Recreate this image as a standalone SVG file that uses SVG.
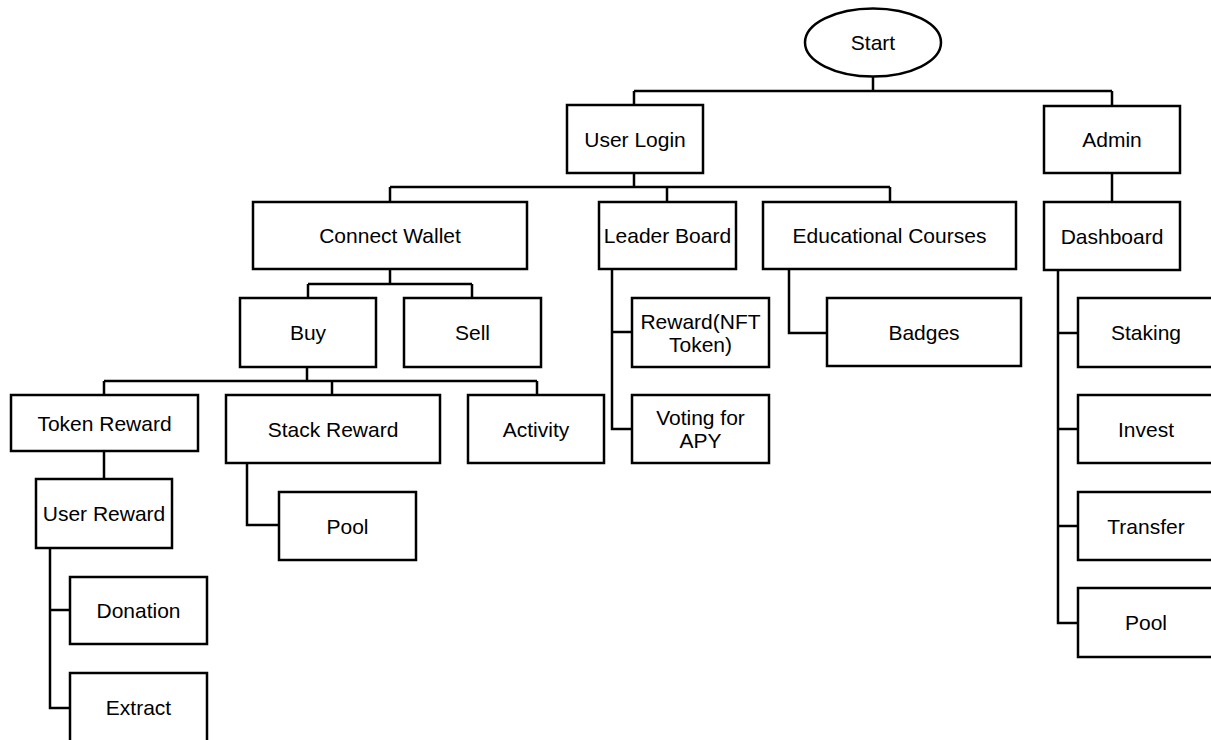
<svg xmlns="http://www.w3.org/2000/svg" width="1211" height="740" viewBox="0 0 1211 740">
<style>
.n{fill:#fff;stroke:#000;stroke-width:2.5}
.c{fill:none;stroke:#000;stroke-width:2.5}
text{font-family:"Liberation Sans",Arial,sans-serif;font-size:21px;fill:#000;text-anchor:middle}
</style>
<rect width="1211" height="740" fill="#fff"/>
<g id="connectors" class="c">
<path d="M873,76 V91 M634,91 H1112 M634,91 V105 M1112,91 V106"/>
<path d="M634,173 V187 M390,187 H890 M390,187 V202 M667,187 V202 M890,187 V202"/>
<path d="M390,269 V284 M308,284 H472 M308,284 V298 M472,284 V298"/>
<path d="M307,367 V381 M104,381 H537 M104,381 V395 M332,381 V395 M537,381 V395"/>
<path d="M104,451 V479"/>
<path d="M50,548 V708 H70 M50,610 H70"/>
<path d="M247,463 V525 H279"/>
<path d="M612,269 V429 H632 M612,332 H632"/>
<path d="M789,269 V333 H827"/>
<path d="M1112,173 V202"/>
<path d="M1058,270 V623 H1078 M1058,333 H1078 M1058,429 H1078 M1058,526 H1078"/>
</g>
<g id="start"><ellipse class="n" cx="873" cy="42.5" rx="68" ry="34"/><text x="873" y="50">Start</text></g>
<g id="user-login"><rect class="n" x="567" y="105" width="136" height="68"/><text x="635" y="146.5">User Login</text></g>
<g id="admin"><rect class="n" x="1044" y="106" width="136" height="67"/><text x="1112" y="147">Admin</text></g>
<g id="connect-wallet"><rect class="n" x="253" y="202" width="274" height="67"/><text x="390" y="243">Connect Wallet</text></g>
<g id="leader-board"><rect class="n" x="599" y="202" width="137" height="67"/><text x="667.5" y="243">Leader Board</text></g>
<g id="educational-courses"><rect class="n" x="763" y="202" width="253" height="67"/><text x="889.5" y="243">Educational Courses</text></g>
<g id="dashboard"><rect class="n" x="1044" y="202" width="136" height="68"/><text x="1112" y="243.5">Dashboard</text></g>
<g id="buy"><rect class="n" x="240" y="298" width="136" height="69"/><text x="308" y="340">Buy</text></g>
<g id="sell"><rect class="n" x="404" y="298" width="137" height="69"/><text x="472.5" y="340">Sell</text></g>
<g id="reward-nft"><rect class="n" x="632" y="298" width="137" height="69"/><text x="700.5" y="328.5">Reward(NFT</text><text x="700.5" y="351.5">Token)</text></g>
<g id="badges"><rect class="n" x="827" y="298" width="194" height="68"/><text x="924" y="339.5">Badges</text></g>
<g id="staking"><rect class="n" x="1078" y="298" width="136" height="69"/><text x="1146" y="340">Staking</text></g>
<g id="token-reward"><rect class="n" x="11" y="395" width="187" height="56"/><text x="104.5" y="430.5">Token Reward</text></g>
<g id="stack-reward"><rect class="n" x="226" y="395" width="214" height="68"/><text x="333" y="436.5">Stack Reward</text></g>
<g id="activity"><rect class="n" x="468" y="395" width="136" height="68"/><text x="536" y="436.5">Activity</text></g>
<g id="voting-apy"><rect class="n" x="632" y="395" width="137" height="68"/><text x="700.5" y="425">Voting for</text><text x="700.5" y="448">APY</text></g>
<g id="invest"><rect class="n" x="1078" y="395" width="136" height="68"/><text x="1146" y="436.5">Invest</text></g>
<g id="user-reward"><rect class="n" x="36" y="479" width="136" height="69"/><text x="104" y="521">User Reward</text></g>
<g id="pool-left"><rect class="n" x="279" y="492" width="137" height="68"/><text x="347.5" y="533.5">Pool</text></g>
<g id="transfer"><rect class="n" x="1078" y="492" width="136" height="68"/><text x="1146" y="533.5">Transfer</text></g>
<g id="donation"><rect class="n" x="70" y="577" width="137" height="67"/><text x="138.5" y="618">Donation</text></g>
<g id="pool-right"><rect class="n" x="1078" y="588" width="136" height="69"/><text x="1146" y="630">Pool</text></g>
<g id="extract"><rect class="n" x="70" y="673" width="137" height="69"/><text x="138.5" y="715">Extract</text></g>
</svg>
